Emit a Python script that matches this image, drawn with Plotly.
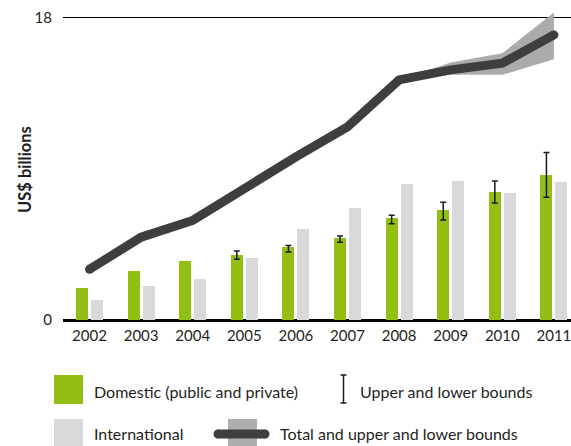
import plotly.graph_objects as go

years = ["2002", "2003", "2004", "2005", "2006", "2007", "2008", "2009", "2010", "2011"]
domestic = [1.93, 2.92, 3.52, 3.87, 4.35, 4.89, 6.08, 6.56, 7.63, 8.64]
international = [1.19, 2.04, 2.44, 3.69, 5.42, 6.67, 8.10, 8.28, 7.57, 8.22]
dom_upper = [None, None, None, 4.11, 4.43, 5.00, 6.24, 7.01, 8.28, 9.97]
dom_lower = [None, None, None, 3.62, 4.05, 4.63, 5.74, 5.96, 6.97, 7.31]
total = [3.02, 4.93, 5.93, 7.85, 9.72, 11.5, 14.3, 14.9, 15.3, 16.98]
total_upper = [None, None, None, None, None, None, 14.3, 15.33, 15.89, 18.31]
total_lower = [None, None, None, None, None, None, 14.3, 14.6, 14.6, 15.53]
y_ticks = [0, 18]

GREEN = "#93bf14"
LIGHT = "#d8d9da"
BAND = "#ababab"
LINE = "#3e3e40"
TEXT = "#231f20"
FONT = "Lato"

W, H = 571, 446
ML, MR, MT, MB = 63, 0, 1, 126
PW, PH = W - ML - MR, H - MT - MB

idx = list(range(len(years)))
BW = 0.232
OFF = 0.145

fig = go.Figure()
fig.add_trace(go.Bar(x=[i - OFF for i in idx], y=domestic, width=BW,
                     marker=dict(color=GREEN, line=dict(width=0)), showlegend=False))
fig.add_trace(go.Bar(x=[i + OFF for i in idx], y=international, width=BW,
                     marker=dict(color=LIGHT, line=dict(width=0)), showlegend=False))

# error bars for domestic
ex, ey, eplus, eminus = [], [], [], []
for i in idx:
    if dom_upper[i] is not None:
        ex.append(i - OFF)
        ey.append(domestic[i])
        eplus.append(dom_upper[i] - domestic[i])
        eminus.append(domestic[i] - dom_lower[i])
fig.add_trace(go.Scatter(x=ex, y=ey, mode="markers", marker=dict(size=0.1, opacity=0),
                         error_y=dict(type="data", array=eplus, arrayminus=eminus,
                                      color="#1a1a1a", thickness=1.5, width=3),
                         showlegend=False, hoverinfo="skip"))

# band
bx = [i for i in idx if total_upper[i] is not None]
fig.add_trace(go.Scatter(x=bx, y=[total_lower[i] for i in bx], mode="lines",
                         line=dict(width=0, color=BAND), showlegend=False, hoverinfo="skip"))
fig.add_trace(go.Scatter(x=bx, y=[total_upper[i] for i in bx], mode="lines", fill="tonexty",
                         fillcolor=BAND, line=dict(width=0, color=BAND), showlegend=False,
                         hoverinfo="skip"))

# total line
fig.add_trace(go.Scatter(x=idx, y=total, mode="lines",
                         line=dict(color=LINE, width=9), showlegend=False))
fig.add_trace(go.Scatter(x=[idx[0], idx[-1]], y=[total[0], total[-1]], mode="markers",
                         marker=dict(color=LINE, size=9, line=dict(width=0)),
                         showlegend=False, hoverinfo="skip"))

X0 = -0.514
X1 = X0 + PW / 51.6
fig.update_xaxes(range=[X0, X1], tickvals=idx, ticktext=years, showgrid=False,
                 zeroline=False, showline=False, ticks="outside", ticklen=2,
                 tickcolor="rgba(0,0,0,0)", automargin=False, ticklabeloverflow="allow",
                 tickfont=dict(family=FONT, size=15, color=TEXT), fixedrange=True)
fig.update_yaxes(range=[0, 19], tickvals=y_ticks, ticktext=[str(v) for v in y_ticks],
                 showgrid=True, gridcolor="#000000", gridwidth=1,
                 zeroline=True, zerolinecolor="#000000", zerolinewidth=2.5,
                 showline=False, ticks="outside", ticklen=7, tickcolor="rgba(0,0,0,0)",
                 tickfont=dict(family=FONT, size=15, color=TEXT), automargin=False,
                 fixedrange=True)


def px(xp):
    return (xp - ML) / PW


def py(yp):
    return (H - MB - yp) / PH


shapes = []
annotations = []
# y-axis title
annotations.append(dict(text="<b>US$ billions</b>", xref="paper", yref="paper",
                        x=px(25), y=py(170), textangle=-90, showarrow=False,
                        xanchor="center", yanchor="middle",
                        font=dict(family=FONT, size=16.5, color=TEXT)))
# legend: green square
shapes.append(dict(type="rect", xref="paper", yref="paper", x0=px(54), x1=px(83),
                   y0=py(404), y1=py(375), fillcolor=GREEN, line=dict(width=0)))
# legend: light square
shapes.append(dict(type="rect", xref="paper", yref="paper", x0=px(54), x1=px(83),
                   y0=py(449), y1=py(419), fillcolor=LIGHT, line=dict(width=0)))
# legend: band square + line
shapes.append(dict(type="rect", xref="paper", yref="paper", x0=px(228), x1=px(257),
                   y0=py(449), y1=py(419), fillcolor="#aeaeae", line=dict(width=0)))
shapes.append(dict(type="line", xref="paper", yref="paper", x0=px(218), x1=px(265),
                   y0=py(434), y1=py(434), line=dict(color=LINE, width=9)))
for cx in (218, 265):
    shapes.append(dict(type="circle", xref="paper", yref="paper", x0=px(cx - 4.5),
                       x1=px(cx + 4.5), y0=py(434 + 4.5), y1=py(434 - 4.5),
                       fillcolor=LINE, line=dict(width=0)))
# legend: error bar icon
shapes.append(dict(type="line", xref="paper", yref="paper", x0=px(343.5), x1=px(343.5),
                   y0=py(403), y1=py(375), line=dict(color="#1a1a1a", width=1.5)))
for yy in (375, 403):
    shapes.append(dict(type="line", xref="paper", yref="paper", x0=px(340.5), x1=px(346.5),
                       y0=py(yy), y1=py(yy), line=dict(color="#1a1a1a", width=1.5)))

for txt, xx, yy in [("Domestic (public and private)", 92, 391),
                    ("International", 92, 434),
                    ("Upper and lower bounds", 358, 391),
                    ("Total and upper and lower bounds", 278, 434)]:
    annotations.append(dict(text=txt, xref="paper", yref="paper", x=px(xx), y=py(yy),
                            xanchor="left", yanchor="middle", showarrow=False,
                            font=dict(family=FONT, size=16, color=TEXT)))

fig.update_layout(width=W, height=H, margin=dict(l=ML, r=MR, t=MT, b=MB),
                  paper_bgcolor="white", plot_bgcolor="white",
                  shapes=shapes, annotations=annotations, showlegend=False,
                  bargap=0, barmode="overlay")
fig.write_html("out.html", config={"displayModeBar": False},
               post_script="document.body.style.margin='0';document.body.style.overflow='hidden';")
